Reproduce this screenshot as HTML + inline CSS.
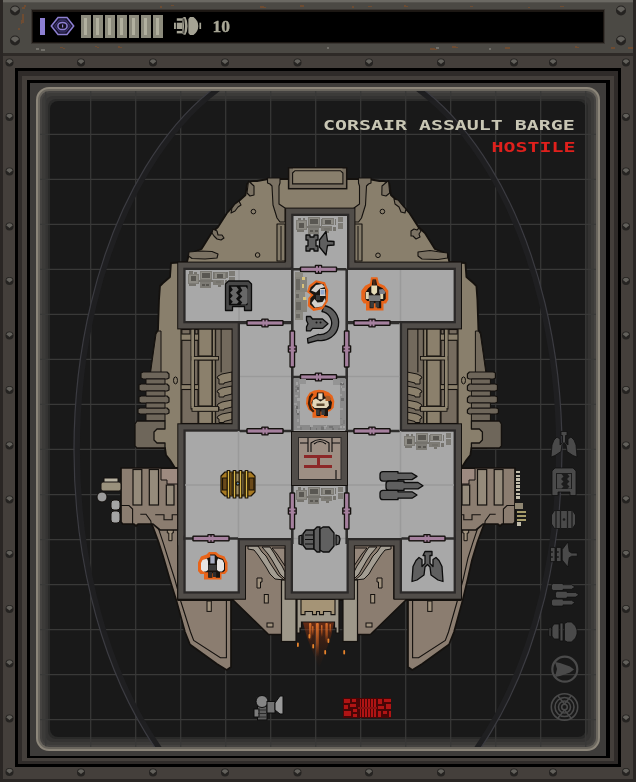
<!DOCTYPE html>
<html><head><meta charset="utf-8"><title>Corsair Assault Barge</title>
<style>
html,body{margin:0;padding:0;background:#1a1a1a;overflow:hidden}
svg{display:block}
text{font-family:"Liberation Sans",sans-serif}
</style></head><body>
<svg width="636" height="782" viewBox="0 0 636 782">
<defs><filter id="idf" x="-5%" y="-50%" width="110%" height="200%"><feOffset dx="0" dy="0"/></filter>
<clipPath id="scr"><rect x="40" y="91" width="556" height="656" rx="9" ry="9"/></clipPath>
<radialGradient id="rv" cx="0.5" cy="0.3" r="0.6"><stop offset="0" stop-color="#8a8882"/><stop offset="0.45" stop-color="#55534e"/><stop offset="0.5" stop-color="#1e1c1a"/><stop offset="1" stop-color="#1e1c1a"/></radialGradient>
<g id="rivet"><circle cx="0" cy="0" r="4" fill="#252321"/><path d="M-3.2,-1 A3.4,3.4 0 0 1 3.2,-1 L1.5,0.3 L0,1.6 L-1.5,0.3 Z" fill="#62605b"/></g>
</defs>
<g shape-rendering="crispEdges">
<rect x="0" y="0" width="636" height="782" fill="#443f3b" />
<rect x="0" y="0" width="636" height="53" fill="#4b4944" />
<rect x="0" y="0" width="636" height="2" fill="#6b6963" />
<rect x="0" y="2" width="636" height="1" fill="#55534e" />
<rect x="0" y="53" width="636" height="3" fill="#2e2a27" />
<rect x="0" y="0" width="3" height="782" fill="#2a2624" />
<rect x="633" y="0" width="3" height="782" fill="#2a2624" />
<rect x="0" y="779" width="636" height="3" fill="#2a2624" />
<rect x="31" y="9" width="574" height="35" fill="#3a3632" />
<rect x="32" y="10" width="572" height="33" fill="#1c1713" />
<rect x="33" y="12" width="570" height="30" fill="#000000" />
<rect x="15" y="68" width="606" height="699" fill="#000000" />
<rect x="17.7" y="70.7" width="600.6" height="693.6" fill="#2f2b29" />
<rect x="22" y="76" width="592" height="685" fill="#443f3b" />
<rect x="26.5" y="80" width="583" height="678" fill="#000000" />
<rect x="30" y="83" width="576" height="672.5" fill="#3e3c3a" />
</g>
<rect x="36" y="87" width="564" height="664" rx="13" ry="13" fill="#8c867a"/>
<rect x="38" y="89" width="560" height="660" rx="11" ry="11" fill="#6a665e"/>
<rect x="40" y="91" width="556" height="656" rx="9" ry="9" fill="#454341"/>
<rect x="42" y="93" width="552" height="652" rx="8" ry="8" fill="#3c3b39"/>
<rect x="45" y="96" width="546" height="646" rx="8" ry="8" fill="#343332"/>
<rect x="48" y="99" width="540" height="640" rx="8" ry="8" fill="#2a2a29"/>
<rect x="50" y="101" width="536" height="636" rx="8" ry="8" fill="#191919"/>
<g clip-path="url(#scr)">
<g stroke="#393938" stroke-width="1.25">
<line x1="45.7" y1="91" x2="45.7" y2="747"/>
<line x1="90.7" y1="91" x2="90.7" y2="747"/>
<line x1="135.7" y1="91" x2="135.7" y2="747"/>
<line x1="180.7" y1="91" x2="180.7" y2="747"/>
<line x1="225.7" y1="91" x2="225.7" y2="747"/>
<line x1="270.7" y1="91" x2="270.7" y2="747"/>
<line x1="315.7" y1="91" x2="315.7" y2="747"/>
<line x1="360.7" y1="91" x2="360.7" y2="747"/>
<line x1="405.7" y1="91" x2="405.7" y2="747"/>
<line x1="450.7" y1="91" x2="450.7" y2="747"/>
<line x1="495.7" y1="91" x2="495.7" y2="747"/>
<line x1="540.7" y1="91" x2="540.7" y2="747"/>
<line x1="585.7" y1="91" x2="585.7" y2="747"/>
<line x1="40" y1="89.3" x2="596" y2="89.3"/>
<line x1="40" y1="134.3" x2="596" y2="134.3"/>
<line x1="40" y1="179.3" x2="596" y2="179.3"/>
<line x1="40" y1="224.3" x2="596" y2="224.3"/>
<line x1="40" y1="269.4" x2="596" y2="269.4"/>
<line x1="40" y1="314.4" x2="596" y2="314.4"/>
<line x1="40" y1="359.4" x2="596" y2="359.4"/>
<line x1="40" y1="404.4" x2="596" y2="404.4"/>
<line x1="40" y1="449.4" x2="596" y2="449.4"/>
<line x1="40" y1="494.5" x2="596" y2="494.5"/>
<line x1="40" y1="539.5" x2="596" y2="539.5"/>
<line x1="40" y1="584.5" x2="596" y2="584.5"/>
<line x1="40" y1="629.5" x2="596" y2="629.5"/>
<line x1="40" y1="674.5" x2="596" y2="674.5"/>
<line x1="40" y1="719.6" x2="596" y2="719.6"/>
</g>
<ellipse cx="318" cy="450" rx="240.9" ry="396.9" fill="none" stroke="#1f1f21" stroke-width="5.6"/>
<ellipse cx="318" cy="450" rx="244" ry="400" fill="none" stroke="#3b3b41" stroke-width="1.2"/>
</g>
<use href="#rivet" x="9.5" y="62.5"/>
<use href="#rivet" x="626" y="62.5"/>
<use href="#rivet" x="9.5" y="117"/>
<use href="#rivet" x="626" y="117"/>
<use href="#rivet" x="9.5" y="171.5"/>
<use href="#rivet" x="626" y="171.5"/>
<use href="#rivet" x="9.5" y="226.5"/>
<use href="#rivet" x="626" y="226.5"/>
<use href="#rivet" x="9.5" y="281"/>
<use href="#rivet" x="626" y="281"/>
<use href="#rivet" x="9.5" y="335.5"/>
<use href="#rivet" x="626" y="335.5"/>
<use href="#rivet" x="9.5" y="390"/>
<use href="#rivet" x="626" y="390"/>
<use href="#rivet" x="9.5" y="445.5"/>
<use href="#rivet" x="626" y="445.5"/>
<use href="#rivet" x="9.5" y="499.5"/>
<use href="#rivet" x="626" y="499.5"/>
<use href="#rivet" x="9.5" y="554"/>
<use href="#rivet" x="626" y="554"/>
<use href="#rivet" x="9.5" y="609"/>
<use href="#rivet" x="626" y="609"/>
<use href="#rivet" x="9.5" y="663.5"/>
<use href="#rivet" x="626" y="663.5"/>
<use href="#rivet" x="9.5" y="718.5"/>
<use href="#rivet" x="626" y="718.5"/>
<use href="#rivet" x="9.5" y="772"/>
<use href="#rivet" x="626" y="772"/>
<use href="#rivet" x="81" y="62.5"/>
<use href="#rivet" x="81" y="772.5"/>
<use href="#rivet" x="153" y="62.5"/>
<use href="#rivet" x="153" y="772.5"/>
<use href="#rivet" x="225" y="62.5"/>
<use href="#rivet" x="225" y="772.5"/>
<use href="#rivet" x="297.5" y="62.5"/>
<use href="#rivet" x="297.5" y="772.5"/>
<use href="#rivet" x="369" y="62.5"/>
<use href="#rivet" x="369" y="772.5"/>
<use href="#rivet" x="441" y="62.5"/>
<use href="#rivet" x="441" y="772.5"/>
<use href="#rivet" x="514" y="62.5"/>
<use href="#rivet" x="514" y="772.5"/>
<use href="#rivet" x="553" y="62.5"/>
<use href="#rivet" x="553" y="772.5"/>
<g transform="translate(15,10.5) scale(1.25)"><use href="#rivet"/></g>
<g transform="translate(15,40.5) scale(1.25)"><use href="#rivet"/></g>
<g transform="translate(621,10.5) scale(1.25)"><use href="#rivet"/></g>
<g transform="translate(621,40.5) scale(1.25)"><use href="#rivet"/></g>
<g shape-rendering="crispEdges">
<rect x="40" y="18" width="5" height="17" fill="#8d7fd2" />
<rect x="81" y="15" width="10" height="23" fill="#8c8b7c" />
<rect x="84" y="18" width="3" height="17" fill="#b1b09e" />
<rect x="93" y="15" width="10" height="23" fill="#8c8b7c" />
<rect x="96" y="18" width="3" height="17" fill="#b1b09e" />
<rect x="105" y="15" width="10" height="23" fill="#8c8b7c" />
<rect x="108" y="18" width="3" height="17" fill="#b1b09e" />
<rect x="117" y="15" width="10" height="23" fill="#8c8b7c" />
<rect x="120" y="18" width="3" height="17" fill="#b1b09e" />
<rect x="129" y="15" width="10" height="23" fill="#8c8b7c" />
<rect x="132" y="18" width="3" height="17" fill="#b1b09e" />
<rect x="141" y="15" width="10" height="23" fill="#8c8b7c" />
<rect x="144" y="18" width="3" height="17" fill="#b1b09e" />
<rect x="153" y="15" width="10" height="23" fill="#8c8b7c" />
<rect x="156" y="18" width="3" height="17" fill="#b1b09e" />
</g>
<polygon points="51.3,26 58,17.6 67,17.6 73.7,26 67,34.4 58,34.4" fill="#16122a" stroke="#8d7fd2" stroke-width="1.5"/>
<polygon points="54.5,26 59.5,20 65.5,20 70.5,26 65.5,32 59.5,32" fill="#241e44" stroke="#3f3674" stroke-width="1"/>
<ellipse cx="62.5" cy="26" rx="4.6" ry="3.6" fill="#14111f" stroke="#8d7fd2" stroke-width="1.5"/>
<rect x="62" y="24.5" width="1.2" height="3" fill="#8d7fd2"/>
<g fill="#a5a394">
<rect x="174" y="22.7" width="1.9" height="6.3"/><rect x="199.4" y="22.7" width="1.7" height="6.3"/>
<rect x="176.8" y="18.3" width="5.6" height="2.5"/><rect x="176.8" y="22.7" width="5.6" height="6.3"/><rect x="176.8" y="30.9" width="5.6" height="2.5"/>
<path d="M182.4,18 L184,17 L185.5,17 Q187.6,21 187.6,26 Q187.6,31 185.5,34.8 L184,34.8 L182.4,33.8 Z"/>
<path d="M188.4,19 L190,17 L193.5,17 Q198.3,20.5 198.3,26 Q198.3,31.500 193.5,35 L190,35 L188.4,33 Z"/>
</g>
<path d="M183.8,18.5 Q185.4,26 183.8,33.5" fill="none" stroke="#000" stroke-width="0.9"/>
<g filter="url(#idf)"><text x="212.5" y="32" style="font-family:'Liberation Serif',serif;font-weight:bold;font-size:17.5px" fill="#a9a796" stroke="#a9a796" stroke-width="0.35">10</text></g>
<g fill="#7a4e2c" opacity="0.75" shape-rendering="crispEdges">
<rect x="22" y="7" width="3" height="1.5"/>
<rect x="24" y="5" width="2" height="1.5"/>
<rect x="60" y="47" width="3" height="1"/>
<rect x="63" y="48" width="2" height="1"/>
<rect x="95" y="46" width="2" height="1"/>
<rect x="97" y="47" width="2" height="1"/>
<rect x="118" y="46" width="2" height="2"/>
<rect x="120" y="47" width="2" height="1"/>
<rect x="160" y="6" width="2" height="2"/>
<rect x="171" y="5" width="3" height="1"/>
<rect x="260" y="6" width="4" height="1.5"/>
<rect x="264" y="7" width="2" height="1"/>
<rect x="300" y="5" width="4" height="2"/>
<rect x="352" y="6" width="2" height="2"/>
<rect x="368" y="6" width="4" height="1"/>
<rect x="404" y="5" width="2" height="2"/>
<rect x="406" y="6" width="2" height="1"/>
<rect x="430" y="48" width="5" height="1.5"/>
<rect x="435" y="49" width="2" height="1"/>
<rect x="452" y="46" width="4" height="1.5"/>
<rect x="456" y="47" width="2" height="1"/>
<rect x="470" y="6" width="3" height="1"/>
<rect x="505" y="47" width="5" height="1.5"/>
<rect x="528" y="7" width="2" height="1"/>
<rect x="560" y="6" width="4" height="1"/>
<rect x="575" y="46" width="2" height="2"/>
<rect x="577" y="47" width="2" height="1"/>
<rect x="611" y="47" width="4" height="1.5"/>
<rect x="628" y="47" width="5" height="2"/>
<rect x="22" y="14" width="1.5" height="9"/><rect x="20.5" y="20" width="1.5" height="4"/><rect x="18" y="28" width="1.5" height="2"/>
</g>
<g fill="#8a8880" opacity="0.6" shape-rendering="crispEdges"><rect x="36" y="48" width="3" height="2"/><rect x="41" y="49" width="4" height="1.5"/><rect x="327" y="47" width="2" height="2"/><rect x="436" y="47" width="3" height="2"/><rect x="489" y="48" width="2" height="2"/></g>
<g clip-path="url(#scr)">
<polygon points="151.3,524 153,527 159,543.4 163,556 170,580 176.4,600.4 185,632 190,644.5 217,664 226.7,670 231,667 231,596 180,596 180,514 151.3,514" fill="#8b7d70" stroke="#14110e" stroke-width="1.7" stroke-linejoin="round"/>
<polygon points="484.7,524 483,527 477,543.4 472,560 467.5,580 462.6,600.4 454,632 449,644.5 422,664 412.3,670 408,667 408,596 459,596 459,514 484.7,514" fill="#8b7d70" stroke="#14110e" stroke-width="1.7" stroke-linejoin="round"/>
<polyline points="155.2,514.8 156.8,523.6 163.4,543.4 168,558 175,580 181,602 190.5,632 193.7,640.5 220.4,657.8 226.4,657.8 226.4,601" fill="none" stroke="#14110e" stroke-width="1.1"/>
<polyline points="480.8,514.8 479.2,523.6 472.6,543.4 468,558 463,580 457,602 448.5,632 445.3,640.5 418.6,657.8 412.6,657.8 412.6,601" fill="none" stroke="#14110e" stroke-width="1.1"/>
<polygon points="167.3,529 173.3,529 173.3,533 172,533 172,540.7 168.8,540.7 168.8,533 167.3,533" fill="#a1937f" stroke="#14110e" stroke-width="1" />
<polygon points="468.7,529 462.7,529 462.7,533 464,533 464,540.7 467.2,540.7 467.2,533 468.7,533" fill="#a1937f" stroke="#14110e" stroke-width="1" />
<rect x="207" y="601" width="4.3" height="10.4" fill="#a1937f" stroke="#14110e" stroke-width="1"/>
<rect x="427.7" y="601" width="4.3" height="10.4" fill="#a1937f" stroke="#14110e" stroke-width="1"/>
<polygon points="319.5,179 268,179 257,181 253,181 250,182 247,184 245.5,195 235.5,204 227,213 218,227 211.5,233 201.5,249 189,254 187,262 171,263 170,277 163,283 160,286 159,300 158,330 156,333 153,355 150.5,373 150.5,421 150,448 165,448 166,455 170,460 175,468 178,468 178,600 319.5,600 319.5,600 461,600 458.4,468 461.4,468 466.4,460 470.4,455 471.4,448 486.4,448 485.9,421 485.9,373 483.4,355 480.4,333 478.4,330 477.4,300 476.4,286 473.4,283 466.4,277 465.4,263 449.4,262 447.4,254 434.9,249 424.9,233 418.4,227 409.4,213 400.9,204 390.9,195 389.4,184 386.4,182 383.4,181 379.4,181 368.4,179 316.9,179" fill="#897f6c" stroke="#14110e" stroke-width="1.8" stroke-linejoin="round"/>
<polygon points="158,331 161,331 161,373 150.5,373 153,355 156,334" fill="#756c5e" stroke="#14110e" stroke-width="1" stroke-linejoin="round"/>
<polygon points="478.4,331 475.4,331 475.4,373 485.9,373 483.4,355 480.4,334" fill="#756c5e" stroke="#14110e" stroke-width="1" stroke-linejoin="round"/>
<polygon points="141,373 143,372 167,372 169,374 169,378 167,379 143,379 141,378" fill="#6e665a" stroke="#14110e" stroke-width="1.2" stroke-linejoin="round"/>
<polygon points="495.4,373 493.4,372 469.4,372 467.4,374 467.4,378 469.4,379 493.4,379 495.4,378" fill="#6e665a" stroke="#14110e" stroke-width="1.2" stroke-linejoin="round"/>
<polygon points="139,385 141,384 167,384 169,386 169,390 167,391 141,391 139,390" fill="#6e665a" stroke="#14110e" stroke-width="1.2" stroke-linejoin="round"/>
<polygon points="497.4,385 495.4,384 469.4,384 467.4,386 467.4,390 469.4,391 495.4,391 497.4,390" fill="#6e665a" stroke="#14110e" stroke-width="1.2" stroke-linejoin="round"/>
<polygon points="139,397 141,396 167,396 169,398 169,402 167,403 141,403 139,402" fill="#6e665a" stroke="#14110e" stroke-width="1.2" stroke-linejoin="round"/>
<polygon points="497.4,397 495.4,396 469.4,396 467.4,398 467.4,402 469.4,403 495.4,403 497.4,402" fill="#6e665a" stroke="#14110e" stroke-width="1.2" stroke-linejoin="round"/>
<polygon points="138,409 140,408 167,408 169,410 169,413 167,414 140,414 138,413" fill="#6e665a" stroke="#14110e" stroke-width="1.2" stroke-linejoin="round"/>
<polygon points="498.4,409 496.4,408 469.4,408 467.4,410 467.4,413 469.4,414 496.4,414 498.4,413" fill="#6e665a" stroke="#14110e" stroke-width="1.2" stroke-linejoin="round"/>
<polygon points="146,379 165,379 165,384 146,384" fill="#6e665a" stroke="#14110e" stroke-width="1.0" stroke-linejoin="round"/>
<polygon points="490.4,379 471.4,379 471.4,384 490.4,384" fill="#6e665a" stroke="#14110e" stroke-width="1.0" stroke-linejoin="round"/>
<polygon points="146,391 165,391 165,396 146,396" fill="#6e665a" stroke="#14110e" stroke-width="1.0" stroke-linejoin="round"/>
<polygon points="490.4,391 471.4,391 471.4,396 490.4,396" fill="#6e665a" stroke="#14110e" stroke-width="1.0" stroke-linejoin="round"/>
<polygon points="146,403 165,403 165,408 146,408" fill="#6e665a" stroke="#14110e" stroke-width="1.0" stroke-linejoin="round"/>
<polygon points="490.4,403 471.4,403 471.4,408 490.4,408" fill="#6e665a" stroke="#14110e" stroke-width="1.0" stroke-linejoin="round"/>
<polygon points="146,414 165,414 165,421 146,421" fill="#6e665a" stroke="#14110e" stroke-width="1.0" stroke-linejoin="round"/>
<polygon points="490.4,414 471.4,414 471.4,421 490.4,421" fill="#6e665a" stroke="#14110e" stroke-width="1.0" stroke-linejoin="round"/>
<polygon points="137,421 135,424 135,446 137,448 165,448 165,443 157,443 154,440 154,432 157,429 165,429 165,421" fill="#6e665a" stroke="#14110e" stroke-width="1.3" stroke-linejoin="round"/>
<polygon points="499.4,421 501.4,424 501.4,446 499.4,448 471.4,448 471.4,443 479.4,443 482.4,440 482.4,432 479.4,429 471.4,429 471.4,421" fill="#6e665a" stroke="#14110e" stroke-width="1.3" stroke-linejoin="round"/>
<polygon points="121,468 178,468 178,530 160,530 153,524.2 138,524.2 136,526 134,524.2 123,524.2 121,522" fill="#8b7d70" stroke="#14110e" stroke-width="1.7" stroke-linejoin="round"/>
<polygon points="515,468 458,468 458,530 476,530 483,524.2 498,524.2 500,526 502,524.2 513,524.2 515,522" fill="#8b7d70" stroke="#14110e" stroke-width="1.7" stroke-linejoin="round"/>
<rect x="133" y="469.5" width="8.8" height="35.5" fill="#958b7b" stroke="#14110e" stroke-width="1.2"/>
<rect x="494.2" y="469.5" width="8.8" height="35.5" fill="#958b7b" stroke="#14110e" stroke-width="1.2"/>
<rect x="149.3" y="469.5" width="9.2" height="35.5" fill="#958b7b" stroke="#14110e" stroke-width="1.2"/>
<rect x="477.5" y="469.5" width="9.2" height="35.5" fill="#958b7b" stroke="#14110e" stroke-width="1.2"/>
<rect x="166.3" y="485" width="7.7" height="20" fill="#958b7b" stroke="#14110e" stroke-width="1.2"/>
<rect x="462" y="485" width="7.7" height="20" fill="#958b7b" stroke="#14110e" stroke-width="1.2"/>
<polygon points="161,468.5 178,468.5 178,484 167,484 167,480 161,480" fill="#9d8a80" stroke="#14110e" stroke-width="1" />
<polygon points="475,468.5 458,468.5 458,484 469,484 469,480 475,480" fill="#9d8a80" stroke="#14110e" stroke-width="1" />
<polyline points="140.3,514.3 146,514.3 150.8,521 151.2,524" fill="none" stroke="#14110e" stroke-width="1.1"/>
<polyline points="495.7,514.3 490,514.3 485.2,521 484.8,524" fill="none" stroke="#14110e" stroke-width="1.1"/>
<polyline points="155.2,514.8 164,514.8 164,519.8 172.2,519.8 172.2,514.8 177,514.8" fill="none" stroke="#14110e" stroke-width="1.1"/>
<polyline points="480.8,514.8 472,514.8 472,519.8 463.8,519.8 463.8,514.8 459,514.8" fill="none" stroke="#14110e" stroke-width="1.1"/>
<polyline points="121,505.5 129,505.5 132.6,509 132.6,524" fill="none" stroke="#14110e" stroke-width="1.1"/>
<polyline points="515,505.5 507,505.5 503.4,509 503.4,524" fill="none" stroke="#14110e" stroke-width="1.1"/>
<g>
<rect x="104" y="478" width="14" height="5" fill="#b9b3a2" stroke="#14110e" stroke-width="1"/>
<rect x="101" y="482" width="20" height="9" rx="2" fill="#9a917c" stroke="#14110e" stroke-width="1"/>
<circle cx="102" cy="497" r="5" fill="#9c9c9c" stroke="#14110e" stroke-width="1"/>
<rect x="111" y="500" width="9" height="10" rx="3" fill="#a4a4a4" stroke="#14110e" stroke-width="1"/>
<rect x="111" y="511" width="9" height="12" rx="3" fill="#a4a4a4" stroke="#14110e" stroke-width="1"/>
</g>
<g shape-rendering="crispEdges">
<rect x="516" y="471" width="4" height="2.4" fill="#c2bdab" />
<rect x="516" y="474.6" width="4" height="2.4" fill="#c2bdab" />
<rect x="516" y="478.2" width="4" height="2.4" fill="#c2bdab" />
<rect x="516" y="481.8" width="4" height="2.4" fill="#c2bdab" />
<rect x="516" y="485.4" width="4" height="2.4" fill="#c2bdab" />
<rect x="516" y="489" width="4" height="2.4" fill="#c2bdab" />
<rect x="516" y="492.6" width="4" height="2.4" fill="#c2bdab" />
<rect x="516" y="496.2" width="4" height="2.4" fill="#c2bdab" />
<rect x="515" y="503" width="8" height="6" fill="#8f8672" />
<rect x="517" y="511" width="9" height="2" fill="#a69c6a" />
<rect x="517" y="515" width="9" height="2" fill="#a69c6a" />
<rect x="517" y="519" width="9" height="2" fill="#a69c6a" />
<rect x="517" y="522" width="4" height="4" fill="#c2bdab" />
</g>
<polygon points="245,544 286,544 286,634.5 268.5,634.5 231.5,598.5 245,598.5" fill="#8b7d70" stroke="#14110e" stroke-width="1.7" stroke-linejoin="round"/>
<polygon points="394,544 353,544 353,634.5 370.5,634.5 407.5,598.5 394,598.5" fill="#8b7d70" stroke="#14110e" stroke-width="1.7" stroke-linejoin="round"/>
<polygon points="248,546 258,546 262,552 266,556 270,563 274,569 278,575 284,580 275,579 270,574 266,567 262,561 258,555 254,550 248,549" fill="#a39d92" stroke="#14110e" stroke-width="1" stroke-linejoin="round"/>
<polygon points="391,546 381,546 377,552 373,556 369,563 365,569 361,575 355,580 364,579 369,574 373,567 377,561 381,555 385,550 391,549" fill="#a39d92" stroke="#14110e" stroke-width="1" stroke-linejoin="round"/>
<polygon points="262,547 270,547 274,553 278,560 282,566 285,572 285,579 280,574 276,567 272,560 268,554" fill="#a39d92" stroke="#14110e" stroke-width="1" stroke-linejoin="round"/>
<polygon points="377,547 369,547 365,553 361,560 357,566 354,572 354,579 359,574 363,567 367,560 371,554" fill="#a39d92" stroke="#14110e" stroke-width="1" stroke-linejoin="round"/>
<polygon points="272,548 285,548 285,566 281,560 277,554" fill="#94867a" stroke="#14110e" stroke-width="1" stroke-linejoin="round"/>
<polygon points="367,548 354,548 354,566 358,560 362,554" fill="#94867a" stroke="#14110e" stroke-width="1" stroke-linejoin="round"/>
<polygon points="257,578 262,578 262,582 260.5,582 260.5,588 257,588" fill="#a1937f" stroke="#14110e" stroke-width="1" stroke-linejoin="round"/>
<polygon points="382,578 377,578 377,582 378.5,582 378.5,588 382,588" fill="#a1937f" stroke="#14110e" stroke-width="1" stroke-linejoin="round"/>
<rect x="264.3" y="594.5" width="4" height="8.5" fill="#a1937f" stroke="#14110e" stroke-width="1"/>
<rect x="370.7" y="594.5" width="4" height="8.5" fill="#a1937f" stroke="#14110e" stroke-width="1"/>
<rect x="267" y="623" width="6" height="4" fill="#a1937f" stroke="#14110e" stroke-width="1"/>
<rect x="366" y="623" width="6" height="4" fill="#a1937f" stroke="#14110e" stroke-width="1"/>
<rect x="281.5" y="580" width="14.5" height="61.5" fill="#9e988a" stroke="#14110e" stroke-width="1.2"/>
<rect x="343" y="580" width="14.5" height="61.5" fill="#9e988a" stroke="#14110e" stroke-width="1.2"/>
<polygon points="297,599 339,599 339,633 336,633 336,628 334.5,628 334.5,622 301.5,622 301.5,628 300,628 300,633 297,633" fill="#9e988a" stroke="#14110e" stroke-width="1.2" />
<polygon points="301,599.5 335,599.5 335,614.6 331,614.6 331,611.5 323.5,611.5 323.5,614.6 319.5,614.6 319.5,611.5 316.5,611.5 316.5,614.6 312.5,614.6 312.5,611.5 305,611.5 305,614.6 301,614.6" fill="#a59476" stroke="#14110e" stroke-width="1.1" />
<polygon points="247,193 248.5,181 254,186 254,195 250,196" fill="#7b7263" stroke="#14110e" stroke-width="1.1" stroke-linejoin="round"/>
<polygon points="389.7,193 388.5,180.5 382,186 381.8,195 386,196" fill="#7b7263" stroke="#14110e" stroke-width="1.1" stroke-linejoin="round"/>
<polygon points="394,199 398,200 403,206 406,209 405,213 401,212 399,207 395,204" fill="#7b7263" stroke="#14110e" stroke-width="1.1" stroke-linejoin="round"/>
<polygon points="411,231 414,229 417,230 419,228 421,231 419,234 420,237 416,239 413,236 411,236" fill="#7b7263" stroke="#14110e" stroke-width="1.1" stroke-linejoin="round"/>
<polygon points="418,252 430,250.5 440,252 447.5,253 447.5,258 438,259.5 422,259 418,256" fill="#7b7263" stroke="#14110e" stroke-width="1.1" stroke-linejoin="round"/>
<polygon points="239,201 235,204 232,208 231,213 235,211 238,207 241,205" fill="#7b7263" stroke="#14110e" stroke-width="1.1" stroke-linejoin="round"/>
<polygon points="213,229 217,231 218,235 222,235 224,238 221,240 217,239 214,236 212,233" fill="#7b7263" stroke="#14110e" stroke-width="1.1" stroke-linejoin="round"/>
<polygon points="189,252 200,251 212,251.5 218,254 217,258 205,259 192,258.5 188.5,256" fill="#7b7263" stroke="#14110e" stroke-width="1.1" stroke-linejoin="round"/>
<polygon points="267.5,178 280,178 280,183 279,186 279,204 285,208 285,222 280,222 277,218 273,205 272,186 270,184 267.5,183" fill="#7b7263" stroke="#14110e" stroke-width="1.1" stroke-linejoin="round"/>
<polygon points="371,178 358.5,178 358.5,183 359.5,186 359.5,204 354,208 354,222 358.5,222 361.5,218 365.5,205 366.5,186 368.5,184 371,183" fill="#7b7263" stroke="#14110e" stroke-width="1.1" stroke-linejoin="round"/>
<polygon points="277,224 285,224 285,261 277,261" fill="#837a68" stroke="#14110e" stroke-width="1.1" stroke-linejoin="round"/>
<polygon points="354,224 362,224 362,261 354,261" fill="#837a68" stroke="#14110e" stroke-width="1.1" stroke-linejoin="round"/>
<g stroke="#14110e" stroke-width="1"><line x1="281" y1="226" x2="281" y2="260"/><line x1="358" y1="226" x2="358" y2="260"/></g>
<circle cx="253.4" cy="211.6" r="2.3" fill="#897f6c" stroke="#14110e" stroke-width="1"/>
<circle cx="257.6" cy="255" r="2.3" fill="#897f6c" stroke="#14110e" stroke-width="1"/>
<circle cx="382.4" cy="211.5" r="2.3" fill="#897f6c" stroke="#14110e" stroke-width="1"/>
<circle cx="378" cy="255.3" r="2.3" fill="#897f6c" stroke="#14110e" stroke-width="1"/>
<rect x="288.6" y="167.8" width="58.1" height="20.9" fill="#776e60" stroke="#14110e" stroke-width="1.5"/>
<rect x="293" y="168.6" width="49.5" height="2.1" fill="#897f6c" />
<polygon points="292.6,173 295,170.7 340.5,170.7 342.9,173 342.9,183.9 292.6,183.9" fill="#897f6c" stroke="#14110e" stroke-width="1.1"/>
<rect x="181" y="329" width="52" height="95" fill="#8b806c" stroke="#14110e" stroke-width="1.1"/>
<rect x="181.8" y="340.3" width="16.2" height="44.3" fill="#766c5f" stroke="#14110e" stroke-width="1.1"/>
<rect x="181.8" y="389.5" width="16.2" height="34" fill="#766c5f" stroke="#14110e" stroke-width="1.1"/>
<rect x="181.8" y="329.5" width="8.2" height="4.5" fill="#766c5f" stroke="#14110e" stroke-width="1.1"/>
<rect x="195" y="329.5" width="3" height="4.5" fill="#766c5f" stroke="#14110e" stroke-width="1.1"/>
<rect x="215.6" y="329" width="16.9" height="94.5" fill="#736a5d" stroke="#14110e" stroke-width="1.1"/>
<rect x="221" y="329" width="0.2" height="43" fill="#14110e" stroke="#14110e" stroke-width="0.8"/>
<rect x="198.7" y="360" width="13.3" height="46" fill="#8b806c" stroke="#14110e" stroke-width="1.1"/>
<rect x="198.7" y="329" width="13.3" height="27" fill="#8b806c" stroke="#14110e" stroke-width="1.1"/>
<rect x="198.7" y="411" width="13.3" height="12.5" fill="#8b806c" stroke="#14110e" stroke-width="1.1"/>
<rect x="212.6" y="329" width="2.6" height="94.5" fill="#8f8570" stroke="#14110e" stroke-width="0.9"/>
<rect x="191" y="329" width="3.5" height="80" fill="#8f8570" stroke="#14110e" stroke-width="0.9"/>
<rect x="192" y="356.5" width="26.5" height="3.5" fill="#8f8570" stroke="#14110e" stroke-width="0.9"/>
<rect x="192" y="406.5" width="26.5" height="4.8" fill="#8f8570" stroke="#14110e" stroke-width="0.9"/>
<rect x="191.6" y="330" width="2.3" height="78" fill="#8f8570" />
<polygon points="218,376 222,374 232,372 232,381 224,383 224,384 219,384 219,379 217,378" fill="#8b806c" stroke="#14110e" stroke-width="1" stroke-linejoin="round"/>
<polygon points="218,390 222,388 232,386 232,394 224,396 224,397 219,397 219,393 217,392" fill="#8b806c" stroke="#14110e" stroke-width="1" stroke-linejoin="round"/>
<polygon points="218,404 222,402 232,400 232,407 224,409 224,410 219,410 219,407 217,406" fill="#8b806c" stroke="#14110e" stroke-width="1" stroke-linejoin="round"/>
<polygon points="218,416 222,414 232,412 232,419.5 224,421.5 224,422.5 219,422.5 219,419 217,418" fill="#8b806c" stroke="#14110e" stroke-width="1" stroke-linejoin="round"/>
<ellipse cx="175.5" cy="380.4" rx="2" ry="3.5" fill="#897f6c" stroke="#14110e" stroke-width="1"/>
<rect x="406" y="329" width="52" height="95" fill="#8b806c" stroke="#14110e" stroke-width="1.1"/>
<rect x="441" y="340.3" width="16.2" height="44.3" fill="#766c5f" stroke="#14110e" stroke-width="1.1"/>
<rect x="441" y="389.5" width="16.2" height="34" fill="#766c5f" stroke="#14110e" stroke-width="1.1"/>
<rect x="449" y="329.5" width="8.2" height="4.5" fill="#766c5f" stroke="#14110e" stroke-width="1.1"/>
<rect x="441" y="329.5" width="3" height="4.5" fill="#766c5f" stroke="#14110e" stroke-width="1.1"/>
<rect x="406.5" y="329" width="16.9" height="94.5" fill="#736a5d" stroke="#14110e" stroke-width="1.1"/>
<rect x="417.8" y="329" width="0.2" height="43" fill="#14110e" stroke="#14110e" stroke-width="0.8"/>
<rect x="427" y="360" width="13.3" height="46" fill="#8b806c" stroke="#14110e" stroke-width="1.1"/>
<rect x="427" y="329" width="13.3" height="27" fill="#8b806c" stroke="#14110e" stroke-width="1.1"/>
<rect x="427" y="411" width="13.3" height="12.5" fill="#8b806c" stroke="#14110e" stroke-width="1.1"/>
<rect x="423.8" y="329" width="2.6" height="94.5" fill="#8f8570" stroke="#14110e" stroke-width="0.9"/>
<rect x="444.5" y="329" width="3.5" height="80" fill="#8f8570" stroke="#14110e" stroke-width="0.9"/>
<rect x="420.5" y="356.5" width="26.5" height="3.5" fill="#8f8570" stroke="#14110e" stroke-width="0.9"/>
<rect x="420.5" y="406.5" width="26.5" height="4.8" fill="#8f8570" stroke="#14110e" stroke-width="0.9"/>
<rect x="445.1" y="330" width="2.3" height="78" fill="#8f8570" />
<polygon points="421,376 417,374 407,372 407,381 415,383 415,384 420,384 420,379 422,378" fill="#8b806c" stroke="#14110e" stroke-width="1" stroke-linejoin="round"/>
<polygon points="421,390 417,388 407,386 407,394 415,396 415,397 420,397 420,393 422,392" fill="#8b806c" stroke="#14110e" stroke-width="1" stroke-linejoin="round"/>
<polygon points="421,404 417,402 407,400 407,407 415,409 415,410 420,410 420,407 422,406" fill="#8b806c" stroke="#14110e" stroke-width="1" stroke-linejoin="round"/>
<polygon points="421,416 417,414 407,412 407,419.5 415,421.5 415,422.5 420,422.5 420,419 422,418" fill="#8b806c" stroke="#14110e" stroke-width="1" stroke-linejoin="round"/>
<ellipse cx="463.5" cy="380.4" rx="2" ry="3.5" fill="#897f6c" stroke="#14110e" stroke-width="1"/>
<rect x="285.1" y="207.6" width="70.3" height="69.8" fill="#14110e" />
<rect x="177.2" y="261.6" width="124.2" height="67.8" fill="#14110e" />
<rect x="338.1" y="261.6" width="123.9" height="67.8" fill="#14110e" />
<rect x="284.6" y="260.6" width="70.3" height="178.8" fill="#14110e" />
<rect x="231.6" y="314.6" width="69.8" height="124.8" fill="#14110e" />
<rect x="338.1" y="314.6" width="70.1" height="124.8" fill="#14110e" />
<rect x="177.3" y="423.3" width="124.1" height="123.1" fill="#14110e" />
<rect x="338.1" y="423.3" width="123.9" height="123.1" fill="#14110e" />
<rect x="177.3" y="529.6" width="68.7" height="70.1" fill="#14110e" />
<rect x="393.6" y="529.6" width="68.4" height="70.1" fill="#14110e" />
<rect x="284.6" y="476.6" width="70.3" height="123.1" fill="#14110e" />
<rect x="284.6" y="422.6" width="70.3" height="70.8" fill="#14110e" />
<rect x="286.1" y="208.6" width="68.3" height="67.8" fill="#514d49" />
<rect x="178.2" y="262.6" width="122.2" height="65.8" fill="#514d49" />
<rect x="339.1" y="262.6" width="121.9" height="65.8" fill="#514d49" />
<rect x="285.6" y="261.6" width="68.3" height="176.8" fill="#514d49" />
<rect x="232.6" y="315.6" width="67.8" height="122.8" fill="#514d49" />
<rect x="339.1" y="315.6" width="68.1" height="122.8" fill="#514d49" />
<rect x="178.3" y="424.3" width="122.1" height="121.1" fill="#514d49" />
<rect x="339.1" y="424.3" width="121.9" height="121.1" fill="#514d49" />
<rect x="178.3" y="530.6" width="66.7" height="68.1" fill="#514d49" />
<rect x="394.6" y="530.6" width="66.4" height="68.1" fill="#514d49" />
<rect x="285.6" y="477.6" width="68.3" height="121.1" fill="#514d49" />
<rect x="285.6" y="423.6" width="68.3" height="68.8" fill="#514d49" />
<rect x="291.2" y="213.7" width="58.1" height="57.6" fill="#2b2928" />
<rect x="183.3" y="267.7" width="112" height="55.6" fill="#2b2928" />
<rect x="344.2" y="267.7" width="111.7" height="55.6" fill="#2b2928" />
<rect x="290.7" y="266.7" width="58.1" height="166.6" fill="#2b2928" />
<rect x="237.7" y="320.7" width="57.6" height="112.6" fill="#2b2928" />
<rect x="344.2" y="320.7" width="57.9" height="112.6" fill="#2b2928" />
<rect x="183.4" y="429.4" width="111.9" height="110.9" fill="#2b2928" />
<rect x="344.2" y="429.4" width="111.7" height="110.9" fill="#2b2928" />
<rect x="183.4" y="535.7" width="56.5" height="57.9" fill="#2b2928" />
<rect x="399.7" y="535.7" width="56.2" height="57.9" fill="#2b2928" />
<rect x="290.7" y="482.7" width="58.1" height="110.9" fill="#2b2928" />
<rect x="290.7" y="428.7" width="58.1" height="58.6" fill="#2b2928" />
<rect x="293.5" y="216" width="53.5" height="53" fill="#a8a8a8" />
<rect x="185.6" y="270" width="107.4" height="51" fill="#a8a8a8" />
<rect x="346.5" y="270" width="107.1" height="51" fill="#a8a8a8" />
<rect x="293" y="269" width="53.5" height="162" fill="#a8a8a8" />
<rect x="240" y="323" width="53" height="108" fill="#a8a8a8" />
<rect x="346.5" y="323" width="53.3" height="108" fill="#a8a8a8" />
<rect x="185.7" y="431.7" width="107.3" height="106.3" fill="#a8a8a8" />
<rect x="346.5" y="431.7" width="107.1" height="106.3" fill="#a8a8a8" />
<rect x="185.7" y="538" width="51.9" height="53.3" fill="#a8a8a8" />
<rect x="402" y="538" width="51.6" height="53.3" fill="#a8a8a8" />
<rect x="293" y="485" width="53.5" height="106.3" fill="#a8a8a8" />
<rect x="293" y="431" width="53.5" height="54" fill="#a8a8a8" />
<g stroke="#9a9a9a" stroke-width="1.6">
<line x1="239" y1="270" x2="239" y2="321"/>
<line x1="400.5" y1="270" x2="400.5" y2="321"/>
<line x1="240" y1="376.5" x2="292" y2="376.5"/>
<line x1="347" y1="376.5" x2="399.5" y2="376.5"/>
<line x1="238.5" y1="431" x2="238.5" y2="538"/>
<line x1="185" y1="485" x2="292" y2="485"/>
<line x1="400.5" y1="431" x2="400.5" y2="538"/>
<line x1="347" y1="485" x2="454" y2="485"/>
<line x1="293" y1="538.5" x2="346.5" y2="538.5"/>
</g>
<g stroke="#2e2d2c" stroke-width="2.6">
<line x1="292.3" y1="269" x2="292.3" y2="431"/>
<line x1="346.7" y1="269" x2="346.7" y2="431"/>
<line x1="292.3" y1="485" x2="292.3" y2="544"/>
<line x1="346.7" y1="485" x2="346.7" y2="544"/>
<line x1="293" y1="269.3" x2="346.5" y2="269.3"/>
<line x1="240" y1="323" x2="292" y2="323"/>
<line x1="347" y1="323" x2="399.5" y2="323"/>
<line x1="293" y1="377" x2="346.5" y2="377"/>
<line x1="240" y1="431" x2="292" y2="431"/>
<line x1="347" y1="431" x2="399.5" y2="431"/>
<line x1="185" y1="538.5" x2="238" y2="538.5"/>
<line x1="401.5" y1="538.5" x2="454" y2="538.5"/>
</g>
<rect x="291" y="431" width="57" height="55" fill="#14110e" />
<rect x="292" y="432" width="55" height="53" fill="#514d49" />
<rect x="298" y="437" width="43.5" height="43" fill="#2b2928" />
<rect x="299" y="438" width="41.5" height="41" fill="#9d8f84" />
<g><rect x="299.8" y="266.40000000000003" width="37.4" height="5.8" rx="1.2" fill="#14110e"/><rect x="314.8" y="264.7" width="7.4" height="9.2" rx="0.8" fill="#14110e"/><rect x="301.2" y="267.7" width="34.6" height="3.2" fill="#a5809e"/><rect x="316.0" y="266.1" width="1.9" height="6.4" fill="#a5809e"/><rect x="319.1" y="266.1" width="1.9" height="6.4" fill="#a5809e"/></g>
<g><rect x="246.3" y="320.1" width="37.4" height="5.8" rx="1.2" fill="#14110e"/><rect x="261.3" y="318.4" width="7.4" height="9.2" rx="0.8" fill="#14110e"/><rect x="247.7" y="321.4" width="34.6" height="3.2" fill="#a5809e"/><rect x="262.5" y="319.8" width="1.9" height="6.4" fill="#a5809e"/><rect x="265.6" y="319.8" width="1.9" height="6.4" fill="#a5809e"/></g>
<g><rect x="353.3" y="320.1" width="37.4" height="5.8" rx="1.2" fill="#14110e"/><rect x="368.3" y="318.4" width="7.4" height="9.2" rx="0.8" fill="#14110e"/><rect x="354.7" y="321.4" width="34.6" height="3.2" fill="#a5809e"/><rect x="369.5" y="319.8" width="1.9" height="6.4" fill="#a5809e"/><rect x="372.6" y="319.8" width="1.9" height="6.4" fill="#a5809e"/></g>
<g><rect x="299.8" y="374.1" width="37.4" height="5.8" rx="1.2" fill="#14110e"/><rect x="314.8" y="372.4" width="7.4" height="9.2" rx="0.8" fill="#14110e"/><rect x="301.2" y="375.4" width="34.6" height="3.2" fill="#a5809e"/><rect x="316.0" y="373.8" width="1.9" height="6.4" fill="#a5809e"/><rect x="319.1" y="373.8" width="1.9" height="6.4" fill="#a5809e"/></g>
<g><rect x="246.3" y="428.1" width="37.4" height="5.8" rx="1.2" fill="#14110e"/><rect x="261.3" y="426.4" width="7.4" height="9.2" rx="0.8" fill="#14110e"/><rect x="247.7" y="429.4" width="34.6" height="3.2" fill="#a5809e"/><rect x="262.5" y="427.8" width="1.9" height="6.4" fill="#a5809e"/><rect x="265.6" y="427.8" width="1.9" height="6.4" fill="#a5809e"/></g>
<g><rect x="353.3" y="428.1" width="37.4" height="5.8" rx="1.2" fill="#14110e"/><rect x="368.3" y="426.4" width="7.4" height="9.2" rx="0.8" fill="#14110e"/><rect x="354.7" y="429.4" width="34.6" height="3.2" fill="#a5809e"/><rect x="369.5" y="427.8" width="1.9" height="6.4" fill="#a5809e"/><rect x="372.6" y="427.8" width="1.9" height="6.4" fill="#a5809e"/></g>
<g><rect x="192.3" y="535.6" width="37.4" height="5.8" rx="1.2" fill="#14110e"/><rect x="207.3" y="533.9" width="7.4" height="9.2" rx="0.8" fill="#14110e"/><rect x="193.7" y="536.9" width="34.6" height="3.2" fill="#a5809e"/><rect x="208.5" y="535.3" width="1.9" height="6.4" fill="#a5809e"/><rect x="211.6" y="535.3" width="1.9" height="6.4" fill="#a5809e"/></g>
<g><rect x="408.3" y="535.6" width="37.4" height="5.8" rx="1.2" fill="#14110e"/><rect x="423.3" y="533.9" width="7.4" height="9.2" rx="0.8" fill="#14110e"/><rect x="409.7" y="536.9" width="34.6" height="3.2" fill="#a5809e"/><rect x="424.5" y="535.3" width="1.9" height="6.4" fill="#a5809e"/><rect x="427.6" y="535.3" width="1.9" height="6.4" fill="#a5809e"/></g>
<g><rect x="289.40000000000003" y="330.3" width="5.8" height="37.4" rx="1.2" fill="#14110e"/><rect x="287.7" y="345.3" width="9.2" height="7.4" rx="0.8" fill="#14110e"/><rect x="290.7" y="331.7" width="3.2" height="34.6" fill="#a5809e"/><rect x="289.1" y="346.5" width="6.4" height="1.9" fill="#a5809e"/><rect x="289.1" y="349.6" width="6.4" height="1.9" fill="#a5809e"/></g>
<g><rect x="343.8" y="330.3" width="5.8" height="37.4" rx="1.2" fill="#14110e"/><rect x="342.09999999999997" y="345.3" width="9.2" height="7.4" rx="0.8" fill="#14110e"/><rect x="345.09999999999997" y="331.7" width="3.2" height="34.6" fill="#a5809e"/><rect x="343.5" y="346.5" width="6.4" height="1.9" fill="#a5809e"/><rect x="343.5" y="349.6" width="6.4" height="1.9" fill="#a5809e"/></g>
<g><rect x="289.40000000000003" y="492.3" width="5.8" height="37.4" rx="1.2" fill="#14110e"/><rect x="287.7" y="507.3" width="9.2" height="7.4" rx="0.8" fill="#14110e"/><rect x="290.7" y="493.7" width="3.2" height="34.6" fill="#a5809e"/><rect x="289.1" y="508.5" width="6.4" height="1.9" fill="#a5809e"/><rect x="289.1" y="511.6" width="6.4" height="1.9" fill="#a5809e"/></g>
<g><rect x="343.8" y="492.3" width="5.8" height="37.4" rx="1.2" fill="#14110e"/><rect x="342.09999999999997" y="507.3" width="9.2" height="7.4" rx="0.8" fill="#14110e"/><rect x="345.09999999999997" y="493.7" width="3.2" height="34.6" fill="#a5809e"/><rect x="343.5" y="508.5" width="6.4" height="1.9" fill="#a5809e"/><rect x="343.5" y="511.6" width="6.4" height="1.9" fill="#a5809e"/></g>
<g transform="translate(296,216.5)" shape-rendering="crispEdges">
<rect x="0" y="3.8" width="10.7" height="9.5" fill="#7d7b75" />
<rect x="1" y="4.8" width="8.7" height="7.5" fill="#8e8c85" />
<rect x="3.2" y="6" width="5" height="5" fill="#595752" />
<rect x="1.2" y="13.3" width="7" height="2.5" fill="#75736d" />
<rect x="1.5" y="1" width="3.5" height="2.8" fill="#75736d" />
<rect x="6.5" y="1.5" width="2.5" height="2.3" fill="#75736d" />
<rect x="11.8" y="0.3" width="12.2" height="9.5" fill="#7d7b75" />
<rect x="12.8" y="1.3" width="10.2" height="7.5" fill="#8e8c85" />
<rect x="14.2" y="2.8" width="7.5" height="5" fill="#595752" />
<rect x="10.7" y="9.8" width="14.3" height="2" fill="#75736d" />
<rect x="12.2" y="11.8" width="11" height="6" fill="#7d7b75" />
<rect x="14" y="13.5" width="3" height="2" fill="#595752" />
<rect x="18.5" y="13.5" width="3" height="2" fill="#595752" />
<rect x="24.7" y="2" width="1.5" height="7" fill="#75736d" />
<rect x="26.4" y="1.3" width="11.3" height="7.5" fill="#7d7b75" />
<rect x="27.4" y="2.3" width="9.3" height="5.5" fill="#8e8c85" />
<rect x="29.2" y="3.3" width="6" height="4" fill="#595752" />
<rect x="25.2" y="9.8" width="11" height="4.5" fill="#7d7b75" />
<rect x="28" y="11" width="5.5" height="2" fill="#75736d" />
<rect x="30.2" y="14.3" width="3" height="2.5" fill="#75736d" />
<rect x="38.5" y="2" width="1.5" height="6" fill="#75736d" />
<rect x="37.2" y="10" width="2.3" height="4" fill="#75736d" />
<rect x="41.5" y="0.3" width="5.2" height="5.5" fill="#7d7b75" />
<rect x="41.5" y="6.8" width="5.2" height="6" fill="#7d7b75" />
</g>
<g transform="translate(187.8,270.2)" shape-rendering="crispEdges">
<rect x="0" y="3.8" width="10.7" height="9.5" fill="#7d7b75" />
<rect x="1" y="4.8" width="8.7" height="7.5" fill="#8e8c85" />
<rect x="3.2" y="6" width="5" height="5" fill="#595752" />
<rect x="1.2" y="13.3" width="7" height="2.5" fill="#75736d" />
<rect x="1.5" y="1" width="3.5" height="2.8" fill="#75736d" />
<rect x="6.5" y="1.5" width="2.5" height="2.3" fill="#75736d" />
<rect x="11.8" y="0.3" width="12.2" height="9.5" fill="#7d7b75" />
<rect x="12.8" y="1.3" width="10.2" height="7.5" fill="#8e8c85" />
<rect x="14.2" y="2.8" width="7.5" height="5" fill="#595752" />
<rect x="10.7" y="9.8" width="14.3" height="2" fill="#75736d" />
<rect x="12.2" y="11.8" width="11" height="6" fill="#7d7b75" />
<rect x="14" y="13.5" width="3" height="2" fill="#595752" />
<rect x="18.5" y="13.5" width="3" height="2" fill="#595752" />
<rect x="24.7" y="2" width="1.5" height="7" fill="#75736d" />
<rect x="26.4" y="1.3" width="11.3" height="7.5" fill="#7d7b75" />
<rect x="27.4" y="2.3" width="9.3" height="5.5" fill="#8e8c85" />
<rect x="29.2" y="3.3" width="6" height="4" fill="#595752" />
<rect x="25.2" y="9.8" width="11" height="4.5" fill="#7d7b75" />
<rect x="28" y="11" width="5.5" height="2" fill="#75736d" />
<rect x="30.2" y="14.3" width="3" height="2.5" fill="#75736d" />
<rect x="38.5" y="2" width="1.5" height="6" fill="#75736d" />
<rect x="37.2" y="10" width="2.3" height="4" fill="#75736d" />
<rect x="41.5" y="0.3" width="5.2" height="5.5" fill="#7d7b75" />
<rect x="41.5" y="6.8" width="5.2" height="6" fill="#7d7b75" />
</g>
<g transform="translate(296,486.3)" shape-rendering="crispEdges">
<rect x="0" y="3.8" width="10.7" height="9.5" fill="#7d7b75" />
<rect x="1" y="4.8" width="8.7" height="7.5" fill="#8e8c85" />
<rect x="3.2" y="6" width="5" height="5" fill="#595752" />
<rect x="1.2" y="13.3" width="7" height="2.5" fill="#75736d" />
<rect x="1.5" y="1" width="3.5" height="2.8" fill="#75736d" />
<rect x="6.5" y="1.5" width="2.5" height="2.3" fill="#75736d" />
<rect x="11.8" y="0.3" width="12.2" height="9.5" fill="#7d7b75" />
<rect x="12.8" y="1.3" width="10.2" height="7.5" fill="#8e8c85" />
<rect x="14.2" y="2.8" width="7.5" height="5" fill="#595752" />
<rect x="10.7" y="9.8" width="14.3" height="2" fill="#75736d" />
<rect x="12.2" y="11.8" width="11" height="6" fill="#7d7b75" />
<rect x="14" y="13.5" width="3" height="2" fill="#595752" />
<rect x="18.5" y="13.5" width="3" height="2" fill="#595752" />
<rect x="24.7" y="2" width="1.5" height="7" fill="#75736d" />
<rect x="26.4" y="1.3" width="11.3" height="7.5" fill="#7d7b75" />
<rect x="27.4" y="2.3" width="9.3" height="5.5" fill="#8e8c85" />
<rect x="29.2" y="3.3" width="6" height="4" fill="#595752" />
<rect x="25.2" y="9.8" width="11" height="4.5" fill="#7d7b75" />
<rect x="28" y="11" width="5.5" height="2" fill="#75736d" />
<rect x="30.2" y="14.3" width="3" height="2.5" fill="#75736d" />
<rect x="38.5" y="2" width="1.5" height="6" fill="#75736d" />
<rect x="37.2" y="10" width="2.3" height="4" fill="#75736d" />
<rect x="41.5" y="0.3" width="5.2" height="5.5" fill="#7d7b75" />
<rect x="41.5" y="6.8" width="5.2" height="6" fill="#7d7b75" />
</g>
<g transform="translate(404,432.5)" shape-rendering="crispEdges">
<rect x="0" y="3.8" width="10.7" height="9.5" fill="#7d7b75" />
<rect x="1" y="4.8" width="8.7" height="7.5" fill="#8e8c85" />
<rect x="3.2" y="6" width="5" height="5" fill="#595752" />
<rect x="1.2" y="13.3" width="7" height="2.5" fill="#75736d" />
<rect x="1.5" y="1" width="3.5" height="2.8" fill="#75736d" />
<rect x="6.5" y="1.5" width="2.5" height="2.3" fill="#75736d" />
<rect x="11.8" y="0.3" width="12.2" height="9.5" fill="#7d7b75" />
<rect x="12.8" y="1.3" width="10.2" height="7.5" fill="#8e8c85" />
<rect x="14.2" y="2.8" width="7.5" height="5" fill="#595752" />
<rect x="10.7" y="9.8" width="14.3" height="2" fill="#75736d" />
<rect x="12.2" y="11.8" width="11" height="6" fill="#7d7b75" />
<rect x="14" y="13.5" width="3" height="2" fill="#595752" />
<rect x="18.5" y="13.5" width="3" height="2" fill="#595752" />
<rect x="24.7" y="2" width="1.5" height="7" fill="#75736d" />
<rect x="26.4" y="1.3" width="11.3" height="7.5" fill="#7d7b75" />
<rect x="27.4" y="2.3" width="9.3" height="5.5" fill="#8e8c85" />
<rect x="29.2" y="3.3" width="6" height="4" fill="#595752" />
<rect x="25.2" y="9.8" width="11" height="4.5" fill="#7d7b75" />
<rect x="28" y="11" width="5.5" height="2" fill="#75736d" />
<rect x="30.2" y="14.3" width="3" height="2.5" fill="#75736d" />
<rect x="38.5" y="2" width="1.5" height="6" fill="#75736d" />
<rect x="37.2" y="10" width="2.3" height="4" fill="#75736d" />
<rect x="41.5" y="0.3" width="5.2" height="5.5" fill="#7d7b75" />
<rect x="41.5" y="6.8" width="5.2" height="6" fill="#7d7b75" />
</g>
<g shape-rendering="crispEdges">
<rect x="294.5" y="272" width="8.5" height="5" fill="#8a8880" />
<rect x="294.5" y="277" width="12" height="15" fill="#85837b" />
<rect x="294.5" y="292" width="10.5" height="8" fill="#8a8880" />
<rect x="294.5" y="300" width="12.5" height="12" fill="#85837b" />
<rect x="294.5" y="312" width="8.5" height="7.5" fill="#8a8880" />
<rect x="296" y="279" width="4" height="11" fill="#6a6862" />
<rect x="296" y="302" width="5" height="8" fill="#6a6862" />
<rect x="296" y="294" width="3" height="4" fill="#6a6862" />
<rect x="296" y="313.5" width="4" height="4" fill="#6e6c66" />
<rect x="302" y="276.5" width="2.5" height="3.5" fill="#d8c27a" />
<rect x="301.5" y="284" width="2.5" height="3.5" fill="#d8c27a" />
<rect x="302.5" y="296.5" width="3" height="3.5" fill="#d8c27a" />
</g>
<g shape-rendering="crispEdges">
<rect x="294" y="378.5" width="5.5" height="51.5" fill="#8a8a8a" />
<rect x="339.5" y="378.5" width="6" height="51.5" fill="#8a8a8a" />
<rect x="299" y="424.5" width="41" height="5.5" fill="#8a8a8a" />
<rect x="299" y="378.5" width="7" height="5" fill="#949494" />
<rect x="333" y="378.5" width="7" height="6" fill="#949494" />
<rect x="294.833" y="405.579" width="2.5" height="2" fill="#9c9c9c" />
<rect x="342.19" y="383.08" width="2" height="2" fill="#6c6c6c" />
<rect x="320.684" y="425.575" width="2.5" height="3" fill="#7e7e7e" />
<rect x="295.667" y="410.036" width="1.5" height="3" fill="#747474" />
<rect x="340.531" y="423.514" width="2.5" height="1.5" fill="#7e7e7e" />
<rect x="325.871" y="425.192" width="1.5" height="2" fill="#a2a2a2" />
<rect x="296.73" y="418.708" width="2" height="3" fill="#9c9c9c" />
<rect x="342.516" y="421.304" width="2" height="3" fill="#7e7e7e" />
<rect x="331.439" y="426.334" width="2" height="1.5" fill="#747474" />
<rect x="294.126" y="403.26" width="2.5" height="2" fill="#9c9c9c" />
<rect x="342.726" y="420.196" width="2.5" height="2" fill="#7e7e7e" />
<rect x="321.683" y="426.602" width="2.5" height="1.5" fill="#7e7e7e" />
<rect x="297.165" y="412.053" width="2" height="3" fill="#6c6c6c" />
<rect x="342.349" y="387.666" width="2.5" height="3" fill="#9c9c9c" />
<rect x="321.472" y="427.141" width="2.5" height="3" fill="#747474" />
<rect x="294.935" y="385.848" width="2.5" height="2" fill="#7e7e7e" />
<rect x="340.31" y="417.628" width="1.5" height="1.5" fill="#7e7e7e" />
<rect x="309.637" y="427.306" width="1.5" height="3" fill="#6c6c6c" />
<rect x="296.151" y="382.112" width="2" height="3" fill="#a2a2a2" />
<rect x="343.083" y="426.09" width="1.5" height="1.5" fill="#a2a2a2" />
<rect x="310.316" y="425.231" width="2.5" height="1.5" fill="#a2a2a2" />
<rect x="297.321" y="425.657" width="2.5" height="2" fill="#9c9c9c" />
<rect x="340.547" y="381.994" width="2" height="2" fill="#9c9c9c" />
<rect x="338.222" y="427.69" width="2" height="2" fill="#7e7e7e" />
<rect x="297.045" y="398.151" width="2.5" height="3" fill="#a2a2a2" />
<rect x="340.359" y="425.726" width="2" height="2" fill="#a2a2a2" />
<rect x="324.274" y="427.147" width="2" height="2" fill="#9c9c9c" />
<rect x="295.824" y="405.776" width="2" height="3" fill="#6c6c6c" />
<rect x="341.102" y="397.696" width="2.5" height="1.5" fill="#a2a2a2" />
<rect x="299.583" y="426.882" width="2" height="3" fill="#7e7e7e" />
<rect x="297.211" y="408.617" width="2.5" height="2" fill="#9c9c9c" />
<rect x="340.078" y="382.847" width="2" height="2" fill="#6c6c6c" />
<rect x="324.003" y="425.896" width="2" height="1.5" fill="#a2a2a2" />
<rect x="295.274" y="394.696" width="2.5" height="2" fill="#9c9c9c" />
<rect x="341.051" y="397.727" width="2.5" height="3" fill="#6c6c6c" />
<rect x="328.612" y="425.93" width="2.5" height="2" fill="#747474" />
<rect x="294.835" y="388.808" width="2.5" height="3" fill="#7e7e7e" />
<rect x="340.34" y="408.234" width="2.5" height="1.5" fill="#9c9c9c" />
<rect x="315.853" y="427.567" width="1.5" height="2" fill="#747474" />
<rect x="296.597" y="390.247" width="2" height="2" fill="#a2a2a2" />
<rect x="340.788" y="385.683" width="1.5" height="2" fill="#a2a2a2" />
<rect x="331.691" y="427.515" width="2" height="2" fill="#747474" />
<rect x="296.825" y="410.171" width="2" height="3" fill="#a2a2a2" />
<rect x="340.454" y="393.721" width="2" height="2" fill="#9c9c9c" />
<rect x="324.27" y="425.871" width="2" height="1.5" fill="#a2a2a2" />
<rect x="297.222" y="387.332" width="2" height="3" fill="#6c6c6c" />
</g>
<g fill="#5f5f5f" stroke="#0c0c0c" stroke-width="1.3" stroke-linejoin="round">
<path d="M306,235 h4 v2 h4 v-2 h4 v5 h-2 v6 h2 v5 h-4 v-2 h-4 v2 h-4 v-5 h2 v-6 h-2 Z"/>
<path d="M319.5,240 L326,231.5 L327.5,241 L334,241.5 L334,245 L327.5,245.5 L326,255 L319.5,247 Z"/>
</g>
<g stroke="#0c0c0c" stroke-width="1.3" stroke-linejoin="round">
<path d="M225.5,284 l3,-3 h20 l3,3 v26.500 h-7 v-4 h-12 v4 h-7 Z" fill="#474747"/>
<path d="M229.500,286 h17.500 v18.500 h-17.500 Z" fill="#0e0e0e"/>
</g>
<path d="M231,286.800 h5.500 l2.300,3 -2.800,3 2.800,3 -2.800,3 2.800,3 -1.800,2 h-6 l1.800,-2 -2.800,-3 2.800,-3 -2.800,-3 2.800,-3 Z" fill="#686868"/>
<path d="M240.300,286.800 h5.500 l1.800,2.500 v13.500 l-1.800,1.700 h-5.300 l1.800,-2 -2.800,-3 2.800,-3 -2.800,-3 2.800,-3 Z" fill="#686868"/>
<g fill="#5f5f5f" stroke="#0c0c0c" stroke-width="1.3" stroke-linejoin="round">
<path d="M324,305.5 A17.5,17.5 0 0 1 318,340.3 L308,343 L307.5,338.5 L318,334.5 A11.5,11.5 0 0 0 322,311.5 Z"/>
<path d="M306.5,316.500 h4 l2,2.500 h10 l5.500,4.700 l-5.500,4.700 h-10 l-2,2.500 h-4 v-4 l1.500,-3.200 -1.500,-3.200 Z"/>
</g>
<circle cx="316.500" cy="322.500" r="1" fill="#111"/><circle cx="320.500" cy="322.500" r="1" fill="#111"/>
<path d="M380,474.7 q0,-3 3,-3 h15 v1.5 h14 l5,3.2 l-5,3.2 h-14 v1.5 h-15 q-3,0 -3,-3 Z" fill="#5f5f5f" stroke="#0c0c0c" stroke-width="1.3" stroke-linejoin="round"/>
<path d="M386,484 q0,-3 3,-3 h15 v1.5 h14 l5,3.2 l-5,3.2 h-14 v1.5 h-15 q-3,0 -3,-3 Z" fill="#5f5f5f" stroke="#0c0c0c" stroke-width="1.3" stroke-linejoin="round"/>
<path d="M380,493.3 q0,-3 3,-3 h15 v1.5 h14 l5,3.2 l-5,3.2 h-14 v1.5 h-15 q-3,0 -3,-3 Z" fill="#5f5f5f" stroke="#0c0c0c" stroke-width="1.3" stroke-linejoin="round"/>
<g fill="#5f5f5f" stroke="#0c0c0c" stroke-width="1.3" stroke-linejoin="round">
<path d="M299,536 l3,-1 v10 l-3,-1 Z"/>
<path d="M303,534 l3,-4 h8 v19 h-8 l-3,-4 Z"/>
<path d="M314,530 l3,-3 h3 v25 h-3 l-3,-3 Z"/>
<path d="M320,529 l3,-2 h6 l5,6 v13 l-5,6 h-6 l-3,-2 Z" fill="#606060"/>
<path d="M336,535 l3,1 1,3 -1,5 -3,1 Z"/>
</g>
<g stroke="#0c0c0c" stroke-width="1"><line x1="305" y1="535" x2="313" y2="535"/><line x1="305" y1="539.5" x2="313" y2="539.5"/><line x1="305" y1="544" x2="313" y2="544"/></g>
<g fill="#5f5f5f" stroke="#0c0c0c" stroke-width="1.3" stroke-linejoin="round">
<path d="M425,551.5 h7 v4 h-2 v8 l3,3 l0,-7 l3,-2 l3,3 l3,6 l1,15 l-5,-1.5 l-7,-5 l-1,-8 l-2.5,-2.5 l-2.5,2.5 l-1,8 l-7,5 l-5,1.5 l1,-15 l3,-6 l3,-3 l3,2 l0,7 l3,-3 v-8 h-2 Z"/>
</g>
<g stroke="#1a1206" stroke-width="1.2" stroke-linejoin="round">
<path d="M221,476 l4,-4 h26 l4,4 v16 l-4,4 h-26 l-4,-4 Z" fill="#a87a22"/>
<path d="M222.5,478 h5 v12 h-5 Z" fill="#6b4a1a"/><path d="M249,478 h5 v12 h-5 Z" fill="#6b4a1a"/>
<rect x="232" y="473" width="12" height="22" fill="#9c8a60"/>
<path d="M227.2,470.5 h2.6 v27.5 h-2.6 Z" fill="#d8b548"/>
<path d="M233.2,470.5 h2.6 v27.5 h-2.6 Z" fill="#d8b548"/>
<path d="M239.2,470.5 h2.6 v27.5 h-2.6 Z" fill="#d8b548"/>
<path d="M245.2,470.5 h2.6 v27.5 h-2.6 Z" fill="#d8b548"/>
<circle cx="237.8" cy="483.5" r="1.6" fill="#5f8fb0"/>
</g>
<g shape-rendering="crispEdges">
<rect x="304" y="455" width="27.5" height="3" fill="#8c2828" />
<rect x="304" y="465" width="27.5" height="3" fill="#8c2828" />
<rect x="316.5" y="457" width="3.5" height="9" fill="#8c2828" />
</g>
<g fill="none" stroke="#0c0c0c" stroke-width="1.1"><path d="M300,443 h8 v-5 M340,443 h-8 v-5 M308,443 v9 M332,443 v9 M311,452 v-9 q9,-7 18,0 v9 M336,470 v9 M314,444 q6,-5 12,0"/></g>
<path d="M316,280.300 l9,2 l3.300,8 l-0.500,11 l-5,8 l-9.500,1.600 l-5.500,-5 l0.500,-8 l2.700,-3 l-4,-3 l2,-6.500 Z" fill="#e8641a"/>
<path d="M316.500,282.500 l7,1.800 l2.600,6.500 l-0.400,9.500 l-4,6.500 l-7.700,1.300 l-4,-3.800 l0.400,-6 l3.300,-3.300 l-4.400,-3.300 l1.400,-4.500 Z" fill="#1a1714"/>
<path d="M311,290.500 l5,-5.500 l6,-1 l3,3 l-5,1.500 l-4,4 Z M320,289 h5 l0.500,7 h-5.500 Z M311.500,303 l3,-4 l3,3.500 l5,-0.500 l2.500,-4 l0.500,3 l-3.500,5.500 l-7,1 Z" fill="#d4d0cc"/>
<rect x="320.500" y="290" width="4" height="4.500" fill="#8fa6cc"/><rect x="316" y="295" width="4" height="5" fill="#3a3a3a"/>
<path d="M371,277.300 h6.500 l1.500,6 l5.500,2.500 l3.800,5 v9 l-2.300,3.700 h-2.500 v7 h-17.500 v-7 h-2.200 l-2.500,-3.700 v-9 l3.800,-5 l5,-2.500 Z" fill="#e8641a"/>
<path d="M372.500,279.500 h3.500 l1.200,6 l5.500,2.800 l3,4.200 v6.500 l-2,2 h-2.500 v7.300 h-4 v-5 h-3.600 v5 h-4 v-7.300 h-2.300 l-2,-2 v-6.500 l3,-4.200 l3.500,-2.800 Z" fill="#1a1410"/>
<rect x="373" y="279.800" width="2.600" height="5.500" fill="#4a2a18"/><path d="M371.300,285.500 h5.800 v7 l-2.900,2.500 l-2.900,-2.500 Z" fill="#e6dcb8"/>
<rect x="365.800" y="292" width="3" height="7" fill="#e0d6b4"/><rect x="380.200" y="292" width="3" height="7" fill="#e0d6b4"/><rect x="369" y="295.300" width="11.300" height="5.700" fill="#7c7c7c"/><rect x="370.300" y="301.500" width="3.500" height="6" fill="#3c3c3c"/><rect x="375.500" y="301.500" width="3.500" height="6" fill="#3c3c3c"/><path d="M379,289.500 l4,-0.500 l2.500,3 l-1,2 h-5 Z" fill="#7d7f88"/>
<path d="M314,390.500 l5,-0.800 l4.500,0.600 l5,2 l4,3.500 l1.800,5.500 l-0.600,6.500 l-3.700,3.500 l-2.500,0.500 v6 h-15 v-5.500 l-4,-2.500 l-2.500,-6 l0.500,-6 l3,-5 Z" fill="#e8641a"/>
<path d="M309,396.500 l3,-3.500 l1.500,1.500 l-2.500,3.500 l-0.800,5 l1.800,5.500 l2.500,2.500 l-1.500,1.500 l-3.500,-3.500 l-1.700,-5.500 Z" fill="#3a1e0c"/>
<path d="M317,392.500 h6.500 l1,4 l5,1.500 l2.500,4.500 l-1,6 l-3,1.500 v6 h-4 v-4.500 h-3.500 v4.500 h-4 v-6 l-3.500,-2 l-1.500,-5.500 l2.500,-4.500 l2.500,-1.500 Z" fill="#1c1510"/>
<rect x="318.300" y="393.300" width="4.200" height="6" fill="#ead9bc"/><path d="M313,400 l3,-1.500 l4.500,3 l4.500,-3 l3,1.500 l1,5.500 l-2.500,2.500 h-12 l-2.500,-2.500 Z" fill="#e2d6b8"/><rect x="316.500" y="403.500" width="8" height="2.500" fill="#5e4a30"/><path d="M325.500,395.500 l4,0.500 l2,3 l-1.500,2 h-4.500 Z" fill="#a85c28"/><rect x="316" y="409.500" width="3.500" height="5.500" fill="#3a3a3a"/><rect x="321.300" y="409.500" width="3.500" height="5.500" fill="#3a3a3a"/>
<path d="M209,552 h7 l3,2.500 l5.500,2 l3,6 v8.500 l-2.500,3 h-3.500 v5.500 h-17.500 v-5.500 h-3.500 l-2.500,-3 v-8.500 l3,-6 l5.500,-2 Z" fill="#e8641a"/>
<path d="M210,554.500 h5 l2.500,2.500 l5.500,2 l2,4.500 v7 l-2,1.800 h-3 v5.500 h-4.200 v-4.500 h-3.400 v4.500 h-4.200 v-5.500 h-3 l-2,-1.800 v-7 l2,-4.500 l5.500,-2 Z" fill="#16130f"/>
<path d="M201,563 l1.500,-3 l4.500,-1.500 l1,2.500 v9 l-2,1.500 h-3 l-2,-2 Z M224,563 l-1.500,-3 l-4.500,-1.500 l-1,2.500 v9 l2,1.500 h3 l2,-2 Z" fill="#e6e4e2"/>
<rect x="210.300" y="555.500" width="4.400" height="8" fill="#a6acc0"/><rect x="208.500" y="565" width="8" height="5.500" fill="#3c3c3c"/><rect x="208.800" y="572" width="3.200" height="5" fill="#2c2c2c"/><rect x="213" y="572" width="3.200" height="5" fill="#2c2c2c"/>
<defs><linearGradient id="fl" x1="0" y1="0" x2="0" y2="1"><stop offset="0" stop-color="#a83c12" stop-opacity="0.55"/><stop offset="0.35" stop-color="#7a2c0c" stop-opacity="0.35"/><stop offset="1" stop-color="#5a2208" stop-opacity="0"/></linearGradient>
<linearGradient id="fs" x1="0" y1="0" x2="0" y2="1"><stop offset="0" stop-color="#e87a30" stop-opacity="0.9"/><stop offset="0.6" stop-color="#d8641f" stop-opacity="0.55"/><stop offset="1" stop-color="#c85018" stop-opacity="0"/></linearGradient></defs>
<path d="M303,622.5 h31 l-3,14 l-5,14 l-7,18 l-6,-16 l-6,-15 Z" fill="url(#fl)"/>
<rect x="309" y="623" width="2.4" height="18" rx="1" fill="url(#fs)"/>
<rect x="316" y="623" width="2.8" height="34" rx="1" fill="url(#fs)"/>
<rect x="325.4" y="623" width="2.4" height="20" rx="1" fill="url(#fs)"/>
<rect x="312" y="626" width="1.5" height="10" rx="1" fill="url(#fs)"/>
<rect x="321" y="625" width="1.5" height="12" rx="1" fill="url(#fs)"/>
<rect x="329.5" y="624" width="1.5" height="9" rx="1" fill="url(#fs)"/>
<rect x="297" y="642.5" width="1.8" height="4.5" rx="0.9" fill="#e8842c"/>
<rect x="324.3" y="650" width="1.8" height="4.5" rx="0.9" fill="#e8842c"/>
<rect x="343.3" y="650" width="1.8" height="4.5" rx="0.9" fill="#e8842c"/>
<rect x="327.5" y="638.5" width="1.8" height="4.5" rx="0.9" fill="#e8842c"/>
<rect x="312.3" y="644" width="1.8" height="4.5" rx="0.9" fill="#e8842c"/>
<rect x="308.5" y="634" width="1.8" height="4.5" rx="0.9" fill="#e8842c"/>
<g stroke="#0c0c0c" stroke-width="1">
<rect x="257.500" y="706" width="9.500" height="14" fill="#5e5e5e"/><circle cx="262" cy="701.500" r="6" fill="#858585"/><rect x="267" y="701.500" width="8" height="11.500" fill="#727272"/><path d="M275,703 l5,-7 h3 v18 h-3 l-5,-4 Z" fill="#9a9a9a"/><rect x="254" y="709" width="5" height="8" fill="#7c7c7c"/>
</g>
<g stroke="#2a2a2a" stroke-width="1"><line x1="258" y1="710" x2="266.500" y2="710"/><line x1="258" y1="713.500" x2="266.500" y2="713.500"/><line x1="258" y1="717" x2="266.500" y2="717"/></g>
<g shape-rendering="crispEdges">
<rect x="342.6" y="698" width="48.8" height="19.7" fill="#480606" />
<rect x="344" y="699" width="6" height="4" fill="#b01414" />
<rect x="352" y="699" width="4" height="2.5" fill="#b01414" />
<rect x="344" y="705" width="4" height="4" fill="#b01414" />
<rect x="350" y="704" width="6" height="3" fill="#b01414" />
<rect x="344" y="711" width="7" height="5" fill="#b01414" />
<rect x="353" y="709" width="4" height="3" fill="#b01414" />
<rect x="353" y="714" width="4" height="2.5" fill="#b01414" />
<rect x="359.5" y="699" width="1.5" height="17.5" fill="#b01414" />
<rect x="362.4" y="699" width="1.5" height="17.5" fill="#b01414" />
<rect x="365.3" y="699" width="1.5" height="17.5" fill="#b01414" />
<rect x="368.2" y="699" width="1.5" height="17.5" fill="#b01414" />
<rect x="371.1" y="699" width="1.5" height="17.5" fill="#b01414" />
<rect x="374" y="699" width="1.5" height="17.5" fill="#b01414" />
<rect x="358" y="706.5" width="19" height="2" fill="#8a1010" />
<rect x="378" y="699" width="4" height="5" fill="#b01414" />
<rect x="384" y="699" width="6.5" height="3" fill="#b01414" />
<rect x="386" y="704" width="4.5" height="5" fill="#b01414" />
<rect x="378" y="706" width="6" height="3" fill="#b01414" />
<rect x="378" y="711" width="3" height="5.5" fill="#b01414" />
<rect x="383" y="711" width="4" height="3" fill="#b01414" />
<rect x="388.5" y="711" width="2" height="5.5" fill="#b01414" />
</g>
</g>
<g filter="url(#idf)"><g transform="translate(323,129.8) scale(1,0.74)"><text x="0" y="0" style="font-family:'DejaVu Sans Mono','Liberation Mono',monospace;font-weight:bold;font-size:19.93px" fill="#c8c6b4">CORSAIR ASSAULT BARGE</text></g></g>
<g filter="url(#idf)"><g transform="translate(491.6,152.2) scale(1,0.74)"><text x="0" y="0" style="font-family:'DejaVu Sans Mono','Liberation Mono',monospace;font-weight:bold;font-size:19.93px" fill="#e0201c">HOSTILE</text></g></g>
<g fill="#4a4a4a" stroke="#101010" stroke-width="0.8" stroke-linejoin="round">
<path d="M561,431.500 h6 v4 h-1.500 v7 l2.500,2.500 v-6 l3,-2 l3,3 l2,5 l1,12 l-4,-1.500 l-6,-4 l-1,-7 l-2,-2 l-2,2 l-1,7 l-6,4 l-4,1.500 l1,-12 l2,-5 l3,-3 l3,2 v6 l2.500,-2.500 v-7 h-1.500 Z"/>
<path d="M552,471 l3,-3 h18 l3,3 v24.500 h-6 v-3.500 h-12 v3.500 h-6 Z"/>
</g>
<g fill="#1c1c1c"><path d="M556,473 h16 v16 h-16 Z"/></g>
<g fill="#4a4a4a"><path d="M557,474 h4.500 l2,2.500 -2.500,2.500 2.500,2.500 -2.500,2.500 2.500,2.500 -2,2 h-4.500 Z M571,474 h-3.500 l2,2.500 -2.500,2.500 2.500,2.500 -2.500,2.500 2.500,2.500 -2,2 h3.500 Z"/></g>
<g fill="#4a4a4a" stroke="#101010" stroke-width="0.8" stroke-linejoin="round">
<path d="M551.500,515 l3,-4.500 h18 l3,4.500 v9 l-3,4.500 h-18 l-3,-4.500 Z"/>
</g>
<g stroke="#1c1c1c" stroke-width="1.300"><line x1="556" y1="510" x2="556" y2="529"/><line x1="560.500" y1="510" x2="560.500" y2="529"/><line x1="567.500" y1="510" x2="567.500" y2="529"/><line x1="572" y1="510" x2="572" y2="529"/></g><circle cx="564" cy="519.500" r="1.300" fill="#1c1c1c"/>
<g fill="#4a4a4a" stroke="#101010" stroke-width="0.8" stroke-linejoin="round">
<path d="M550.500,547.400 h4.500 v14.200 h-4.500 Z M556.500,547.400 h4.500 v14.200 h-4.500 Z"/>
<path d="M562.2,549.500 l5.700,-7.500 l1.300,9.500 l2.500,1.500 h5.600 v3.200 h-5.600 l-2.500,1.500 l-1.300,9.300 l-5.700,-7 Z"/>
<path d="M550,551.300 h2.800 v1.500 h-2.800 Z M550,556.200 h2.800 v1.500 h-2.800 Z M556,551.300 h2.800 v1.500 h-2.800 Z M556,556.200 h2.800 v1.500 h-2.800 Z" fill="#191919" stroke="none"/>
<path d="M551.5,585.5 q0,-2 2,-2 h9.500 v1.200 h8.500 l3.500,2.300 l-3.500,2.300 h-8.500 v1.200 h-9.500 q-2,0 -2,-2 Z"/>
<path d="M555.5,593.3 q0,-2 2,-2 h9.500 v1.200 h8.500 l3.500,2.300 l-3.500,2.300 h-8.500 v1.200 h-9.500 q-2,0 -2,-2 Z"/>
<path d="M551.5,601.1 q0,-2 2,-2 h9.500 v1.200 h8.500 l3.500,2.300 l-3.500,2.300 h-8.500 v1.200 h-9.500 q-2,0 -2,-2 Z"/>
<path d="M549,628 l2,-1 v10 l-2,-1 Z M552,627 l2,-3 h5 v15 h-5 l-2,-3 Z M560,623 h3 v18 h-3 Z M564.500,623.500 l3,-1.500 h4 l4,4 l1.500,4 v4 l-1.500,4 l-4,4 h-4 l-3,-1.500 Z"/>
</g>
<circle cx="564.800" cy="669.200" r="12.500" fill="none" stroke="#4a4a4a" stroke-width="2.200"/>
<path d="M555,662 l5,1 l10,3.500 l4,3 l-4,3 l-10,3.500 l-5,1 l2,-8 Z" fill="#4a4a4a"/>
<circle cx="564.500" cy="707" r="13.2" fill="none" stroke="#4a4a4a" stroke-width="1.600"/>
<circle cx="564.500" cy="707" r="9.5" fill="none" stroke="#4a4a4a" stroke-width="1.600"/>
<circle cx="564.500" cy="707" r="6" fill="none" stroke="#4a4a4a" stroke-width="1.600"/>
<circle cx="564.500" cy="707" r="2.8" fill="none" stroke="#4a4a4a" stroke-width="1.600"/>
<path d="M558,696 l6.500,8 l6.500,-8 M558,718 l6.500,-8 l6.500,8" fill="none" stroke="#4a4a4a" stroke-width="1.500"/>
</svg>
</body></html>
